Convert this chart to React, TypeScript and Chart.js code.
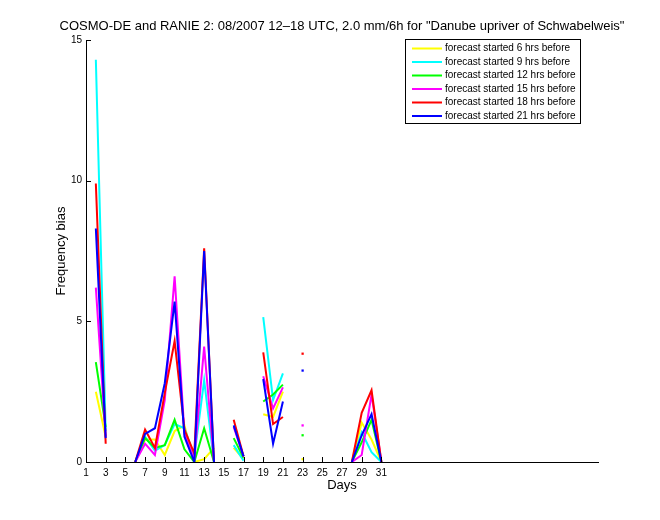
import React, { useEffect, useRef } from 'react';
import { Chart, registerables } from 'chart.js';

Chart.register(...registerables);

const titleText = 'COSMO-DE and RANIE 2: 08/2007 12\u201318 UTC, 2.0 mm/6h for "Danube upriver of Schwabelweis"';
const xTitle = 'Days';
const yTitle = 'Frequency bias';

const days = [1, 2, 3, 4, 5, 6, 7, 8, 9, 10, 11, 12, 13, 14, 15, 16, 17, 18, 19, 20, 21, 22, 23, 24, 25, 26, 27, 28, 29, 30, 31];
const xTickValues = [1, 3, 5, 7, 9, 11, 13, 15, 17, 19, 21, 23, 25, 27, 29, 31];
const yTickValues = [0, 5, 10, 15];

const seriesLabels = [
  'forecast started 6 hrs before',
  'forecast started 9 hrs before',
  'forecast started 12 hrs before',
  'forecast started 15 hrs before',
  'forecast started 18 hrs before',
  'forecast started 21 hrs before',
];
const seriesColors = ['#ffff00', '#00ffff', '#00ff00', '#ff00ff', '#ff0000', '#0000ff'];

const n = null;
//            1   2     3     4  5  6  7     8     9     10    11    12   13    14   15 16    17    18 19    20    21    22 23    24 25 26 27 28 29    30    31
const h6 =  [n, 2.5,  0.9,  n, n, 0, 0.8,  0.8,  0.25, 1.1,  1.3,  0.0, 0.1,  0.5, n, 0.5,  0.1,  n, 1.7,  1.6,  2.5,  n, 0.1,  n, n, n, n, 0, 1.4,  0.8,  0];
const h9 =  [n, 14.3, 1.1,  n, n, 0, 0.9,  0.4,  0.6,  1.35, 1.2,  0.2, 2.9,  0,   n, 0.6,  0.05, n, 5.15, 2.2,  3.15, n, n,    n, n, n, n, 0, 1.05, 0.35, 0];
const h12 = [n, 3.55, 1.25, n, n, 0, 0.85, 0.5,  0.6,  1.5,  0.45, 0.0, 1.2,  0,   n, 0.85, 0.15, n, 2.15, 2.4,  2.75, n, 0.95, n, n, n, n, 0, 0.7,  1.5,  0];
const h15 = [n, 6.2,  0.9,  n, n, 0, 0.65, 0.25, 2.2,  6.6,  1.0,  0.1, 4.1,  0,   n, 1.25, 0.2,  n, 3.05, 1.9,  2.65, n, 1.3,  n, n, n, n, 0, 0.25, 2.4,  0];
const h18 = [n, 9.9,  0.65, n, n, 0, 1.15, 0.5,  2.45, 4.3,  1.15, 0.3, 7.6,  0,   n, 1.5,  0.2,  n, 3.9,  1.35, 1.6,  n, 3.85, n, n, n, n, 0, 1.75, 2.55, 0];
const h21 = [n, 8.3,  0.85, n, n, 0, 1.0,  1.2,  2.8,  5.7,  0.9,  0.0, 7.5,  0,   n, 1.3,  0.2,  n, 2.95, 0.65, 2.15, n, 3.25, n, n, n, n, 0, 0.95, 1.7,  0];

const seriesValues = [h6, h9, h12, h15, h18, h21];

const FONT = "'Liberation Sans', Arial, Helvetica, sans-serif";

const overlayPlugin = {
  id: 'overlay',
  afterDraw(chart: any) {
    const ctx = chart.ctx;
    const ca = chart.chartArea;
    const xs = chart.scales.x;
    const ys = chart.scales.y;
    ctx.save();
    // title
    ctx.fillStyle = '#000';
    ctx.font = `13px ${FONT}`;
    ctx.textAlign = 'center';
    ctx.textBaseline = 'middle';
    ctx.fillText(titleText, (ca.left + ca.right) / 2, 26);

    // inward ticks
    ctx.strokeStyle = '#000';
    ctx.lineWidth = 1;
    ctx.beginPath();
    xTickValues.forEach((v) => {
      const px = Math.round(xs.getPixelForValue(v)) + 0.5;
      ctx.moveTo(px, ca.bottom);
      ctx.lineTo(px, ca.bottom - 5);
    });
    yTickValues.forEach((v) => {
      const py = Math.round(ys.getPixelForValue(v)) + 0.5;
      ctx.moveTo(ca.left, py);
      ctx.lineTo(ca.left + 5, py);
    });
    ctx.stroke();

    // legend
    const bx = 405.5, by = 39.5, bw = 175, bh = 84;
    ctx.fillStyle = '#fff';
    ctx.fillRect(bx, by, bw, bh);
    ctx.strokeStyle = '#000';
    ctx.strokeRect(bx, by, bw, bh);
    ctx.font = `10px ${FONT}`;
    ctx.textAlign = 'left';
    ctx.textBaseline = 'middle';
    chart.data.datasets.forEach((ds: any, i: number) => {
      const y = 48.5 + i * 13.5;
      ctx.strokeStyle = ds.borderColor;
      ctx.lineWidth = 2;
      ctx.beginPath();
      ctx.moveTo(412, y);
      ctx.lineTo(442, y);
      ctx.stroke();
      ctx.fillStyle = '#000';
      ctx.fillText(ds.label, 445, y);
    });
    ctx.restore();
  },
};

export default function App() {
  const canvasRef = useRef<HTMLCanvasElement | null>(null);

  useEffect(() => {
    if (!canvasRef.current) return;
    const datasets = seriesValues.map((vals, si) => ({
      label: seriesLabels[si],
      data: days.map((d, i) => ({ x: d, y: vals[i] })),
      borderColor: seriesColors[si],
      backgroundColor: seriesColors[si],
      borderWidth: 2,
      tension: 0,
      spanGaps: false,
      order: seriesValues.length - si,
      pointStyle: 'rect',
      pointBorderWidth: 0,
      pointRadius: (c: any) => {
        const i = c.dataIndex;
        const v = vals[i];
        if (v === null || v === undefined) return 0;
        const prev = i > 0 ? vals[i - 1] : null;
        const next = i < vals.length - 1 ? vals[i + 1] : null;
        return prev === null && next === null ? 1.6 : 0;
      },
      pointHoverRadius: 0,
    }));

    const chart = new Chart(canvasRef.current, {
      type: 'line',
      data: { datasets },
      options: {
        animation: false,
        responsive: false,
        events: [],
        layout: { padding: { left: 0, top: 40, right: 62, bottom: 0 } },
        plugins: { legend: { display: false }, tooltip: { enabled: false }, title: { display: false } },
        scales: {
          x: {
            type: 'linear',
            min: 1,
            max: 53,
            grid: { display: false, drawTicks: false },
            border: { display: true, color: '#000', width: 1 },
            afterBuildTicks: (s: any) => {
              s.ticks = xTickValues.map((v) => ({ value: v }));
            },
            afterFit: (s: any) => {
              s.height = 58;
            },
            ticks: {
              color: '#000',
              font: { family: FONT, size: 10 },
              padding: 5,
              maxRotation: 0,
              autoSkip: false,
            },
            title: {
              display: true,
              text: xTitle,
              color: '#000',
              font: { family: FONT, size: 13 },
              padding: { top: 0, bottom: 27 },
            },
          },
          y: {
            type: 'linear',
            min: 0,
            max: 15,
            grid: { display: false, drawTicks: false },
            border: { display: true, color: '#000', width: 1 },
            afterBuildTicks: (s: any) => {
              s.ticks = yTickValues.map((v) => ({ value: v }));
            },
            afterFit: (s: any) => {
              s.width = 86;
            },
            ticks: {
              color: '#000',
              font: { family: FONT, size: 10 },
              padding: 4,
            },
            title: {
              display: true,
              text: yTitle,
              color: '#000',
              font: { family: FONT, size: 13 },
              padding: { top: 54, bottom: 0 },
            },
          },
        },
      },
      plugins: [overlayPlugin],
    });
    return () => chart.destroy();
  }, []);

  return (
    <div style={{ position: 'absolute', left: 0, top: 0, width: 660, height: 520, background: '#fff' }}>
      <canvas ref={canvasRef} width={660} height={520} style={{ display: 'block' }} />
    </div>
  );
}
